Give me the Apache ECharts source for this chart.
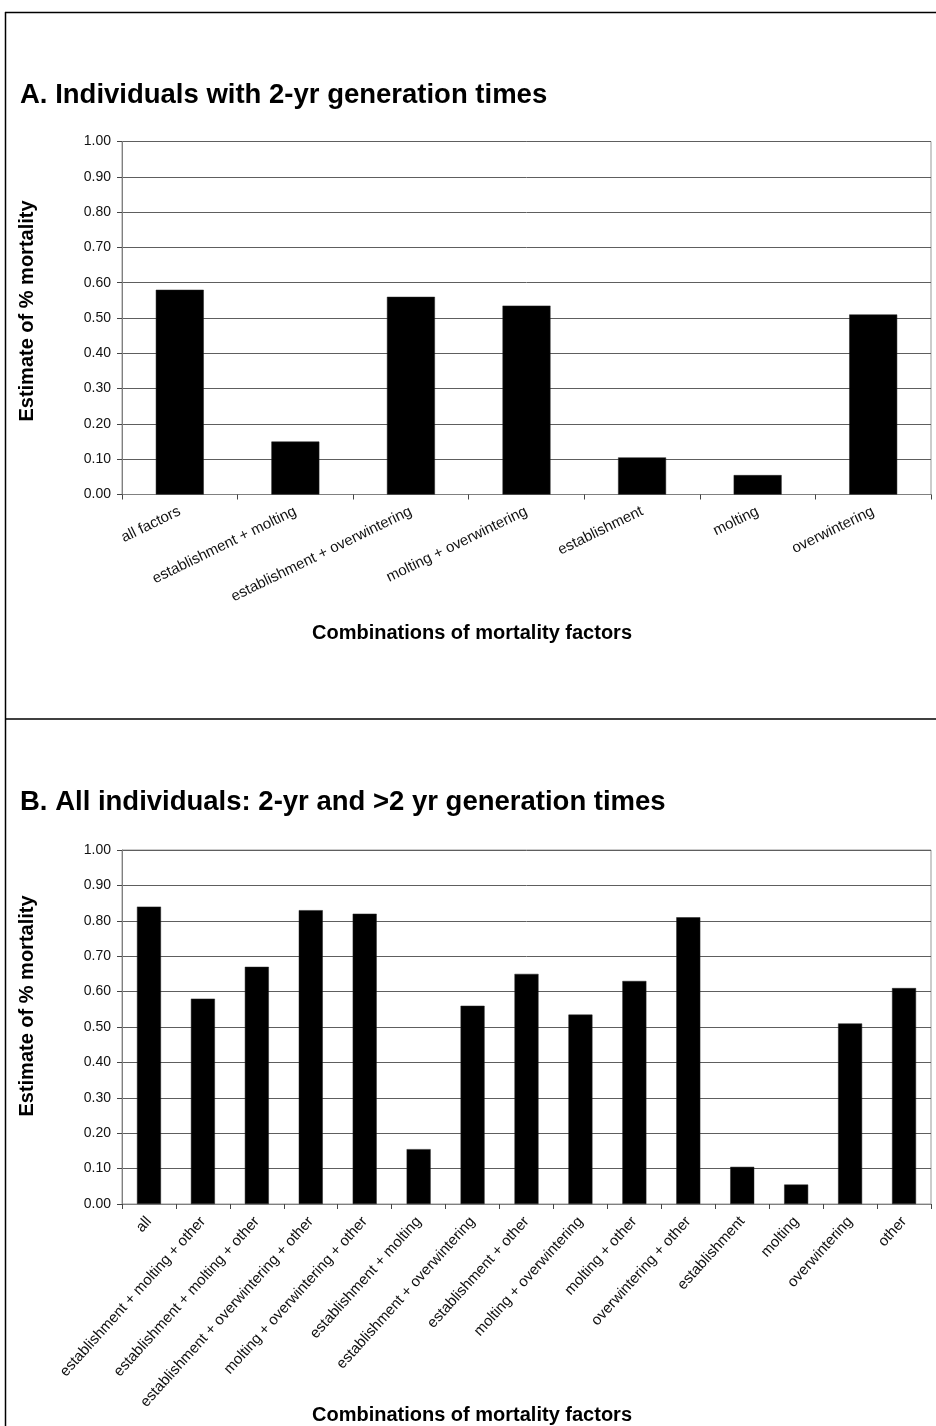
<!DOCTYPE html>
<html>
<head>
<meta charset="utf-8">
<script src="https://cdn.jsdelivr.net/npm/echarts@6/dist/echarts.min.js"></script>
<style>
html,body{margin:0;padding:0;background:#fff;}
#chart{width:936px;height:1426px;}
</style>
</head>
<body>
<div id="chart"></div>
<script>
// ---- Data ----
var titleA = 'A. Individuals with 2-yr generation times';
var titleB = 'B. All individuals: 2-yr and >2 yr generation times';
var yAxisTitle = 'Estimate of % mortality';
var xAxisTitle = 'Combinations of mortality factors';

var categoriesA = ['all factors', 'establishment + molting', 'establishment + overwintering',
  'molting + overwintering', 'establishment', 'molting', 'overwintering'];
var valuesA = [0.58, 0.15, 0.56, 0.535, 0.105, 0.055, 0.51];

var categoriesB = ['all', 'establishment + molting + other', 'establishment + molting + other',
  'establishment + overwintering + other', 'molting + overwintering + other',
  'establishment + molting', 'establishment + overwintering', 'establishment + other',
  'molting + overwintering', 'molting + other', 'overwintering + other',
  'establishment', 'molting', 'overwintering', 'other'];
var valuesB = [0.84, 0.58, 0.67, 0.83, 0.82, 0.155, 0.56, 0.65, 0.535, 0.63, 0.81, 0.105, 0.055, 0.51, 0.61];

var yTicks = {min: 0, max: 1, interval: 0.1};

// ---- Chart ----
var FONT = "'Liberation Sans', Arial, Helvetica, sans-serif";
var chart = echarts.init(document.getElementById('chart'), null, {renderer: 'canvas'});

function xAxis(idx, cats, rot, margin) {
  return {
    type: 'category', gridIndex: idx, data: cats,
    boundaryGap: true,
    axisLine: {show: true, lineStyle: {color: '#808080', width: 1}},
    axisTick: {show: true, alignWithLabel: false, length: 5, lineStyle: {color: '#444'}},
    axisLabel: {interval: 0, rotate: rot, margin: margin, color: '#111', fontSize: 15, fontFamily: FONT},
    splitLine: {show: false}
  };
}
function yAxis(idx) {
  return {
    type: 'value', gridIndex: idx, min: yTicks.min, max: yTicks.max, interval: yTicks.interval,
    axisLine: {show: true, lineStyle: {color: '#808080', width: 1}},
    axisTick: {show: true, length: 5, lineStyle: {color: '#444'}},
    axisLabel: {margin: 11, color: '#111', fontSize: 14, fontFamily: FONT,
      formatter: function (v) { return v.toFixed(2); }},
    splitLine: {show: true, lineStyle: {color: '#5e5e5e', width: 1}}
  };
}

var option = {
  animation: false,
  backgroundColor: '#fff',
  grid: [
    {left: 122, top: 141.5, width: 809, height: 353, show: true, borderColor: '#999', borderWidth: 1, backgroundColor: 'transparent'},
    {left: 122, top: 850, width: 809, height: 354, show: true, borderColor: '#999', borderWidth: 1, backgroundColor: 'transparent'}
  ],
  xAxis: [xAxis(0, categoriesA, 26, 16), xAxis(1, categoriesB, 48, 15)],
  yAxis: [yAxis(0), yAxis(1)],
  series: [
    {type: 'bar', xAxisIndex: 0, yAxisIndex: 0, data: valuesA, barWidth: '41.5%',
      itemStyle: {color: '#000', borderColor: '#222', borderWidth: 0.5}},
    {type: 'bar', xAxisIndex: 1, yAxisIndex: 1, data: valuesB, barWidth: '44.5%',
      itemStyle: {color: '#000', borderColor: '#222', borderWidth: 0.5}}
  ],
  graphic: [
    {type: 'line', shape: {x1: 5, y1: 12.5, x2: 936, y2: 12.5}, style: {stroke: '#000', lineWidth: 1.5}},
    {type: 'line', shape: {x1: 5.5, y1: 12, x2: 5.5, y2: 1426}, style: {stroke: '#000', lineWidth: 1.5}},
    {type: 'line', shape: {x1: 5, y1: 719, x2: 936, y2: 719}, style: {stroke: '#000', lineWidth: 1.5}},
    {type: 'text', x: 20, y: 95, style: {text: titleA, font: 'bold 27.5px ' + FONT, fill: '#000',
      textAlign: 'left', align: 'left', textVerticalAlign: 'middle', verticalAlign: 'middle'}},
    {type: 'text', x: 20, y: 802, style: {text: titleB, font: 'bold 27.5px ' + FONT, fill: '#000',
      textAlign: 'left', align: 'left', textVerticalAlign: 'middle', verticalAlign: 'middle'}},
    {type: 'text', x: 27, y: 311, rotation: Math.PI / 2, style: {text: yAxisTitle, font: 'bold 20px ' + FONT, fill: '#000',
      textAlign: 'center', align: 'center', textVerticalAlign: 'middle', verticalAlign: 'middle'}},
    {type: 'text', x: 27, y: 1006, rotation: Math.PI / 2, style: {text: yAxisTitle, font: 'bold 20px ' + FONT, fill: '#000',
      textAlign: 'center', align: 'center', textVerticalAlign: 'middle', verticalAlign: 'middle'}},
    {type: 'text', x: 472, y: 633, style: {text: xAxisTitle, font: 'bold 20px ' + FONT, fill: '#000',
      textAlign: 'center', align: 'center', textVerticalAlign: 'middle', verticalAlign: 'middle'}},
    {type: 'text', x: 472, y: 1415, style: {text: xAxisTitle, font: 'bold 20px ' + FONT, fill: '#000',
      textAlign: 'center', align: 'center', textVerticalAlign: 'middle', verticalAlign: 'middle'}}
  ]
};
chart.setOption(option);
</script>
</body>
</html>
